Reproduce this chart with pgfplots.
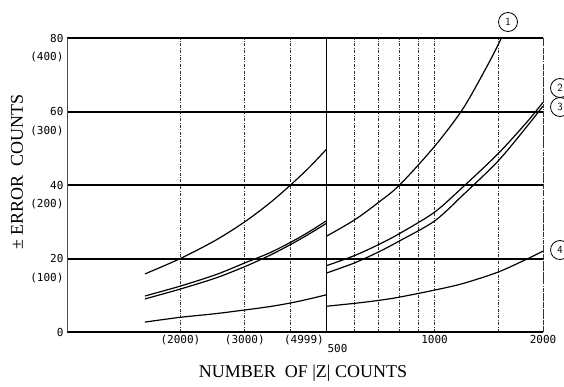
\documentclass[border=0pt]{standalone}
\usepackage{pgfplots}
\pgfplotsset{compat=1.18}
\usepackage{fontspec}
\setmainfont{Liberation Serif}
\newfontfamily\tickfont{DejaVu Sans Mono}

\begin{document}
\begin{tikzpicture}[x=1pt,y=1pt]
\path[use as bounding box] (0,0) rectangle (564,386);

% left section: (bracketed) scale, 1000-5000
\begin{axis}[xmode=log, scale only axis, height=294pt, ymin=0, ymax=80,
  axis line style={draw=none},
  major tick length=0pt, minor tick length=0pt,
  ytick={0,20,40,60,80}, ymajorgrids, xmajorgrids,
  y grid style={line width=2pt, black},
  x grid style={line width=0.7pt, black!80, dash pattern=on 3pt off 1.5pt on 0.8pt off 1.5pt},
  tick label style={font=\tickfont\fontsize{11}{12}\selectfont},
  anchor=south west, clip mode=individual,
  at={(67pt,54pt)}, width=259pt,
  xmin=980, xmax=5000,
  xtick={2000,3000,4000}, xticklabels={(2000),(3000),{}},
  extra x ticks={4350}, extra x tick labels={(4999)},
  extra x tick style={grid=none},
  yticklabels={0,20,40,60,80},
  extra y ticks={14.7,34.7,54.7,74.7},
  extra y tick labels={(100),(200),(300),(400)},
  extra y tick style={grid=none},
]
\addplot[line width=1.2pt, black, mark=none, smooth] coordinates {(1600,15.8) (2000,20) (2500,25) (3000,30) (3500,35) (4000,40) (4500,44.8) (5000,49.6)};
\addplot[line width=1.2pt, black, mark=none, smooth] coordinates {(1600,9.8) (2000,12.5) (2500,15.6) (3000,18.8) (3500,21.5) (4000,24.4) (4500,27.3) (5000,30.2)};
\addplot[line width=1.2pt, black, mark=none, smooth] coordinates {(1600,9.0) (2000,11.7) (2500,14.7) (3000,17.8) (3500,20.8) (4000,23.8) (4500,26.7) (5000,29.5)};
\addplot[line width=1.2pt, black, mark=none, smooth] coordinates {(1600,2.7) (2000,4.0) (2500,5.0) (3000,6.0) (3500,6.9) (4000,7.9) (4500,9.0) (5000,10.1)};
\draw[line width=2pt] (rel axis cs:0,1) -- (rel axis cs:1,1);
\draw[line width=2pt] (rel axis cs:0,0) -- (rel axis cs:1,0);
\draw[line width=0.8pt, black!70] (rel axis cs:0,0) -- (rel axis cs:0,1);
\draw[line width=1pt] (rel axis cs:1,0) -- (rel axis cs:1,1);
\end{axis}

% right section: 500-2000
\begin{axis}[xmode=log, scale only axis, height=294pt, ymin=0, ymax=80,
  axis line style={draw=none},
  major tick length=0pt, minor tick length=0pt,
  ytick={0,20,40,60,80}, ymajorgrids, xmajorgrids,
  y grid style={line width=2pt, black},
  x grid style={line width=0.7pt, black!80, dash pattern=on 3pt off 1.5pt on 0.8pt off 1.5pt},
  tick label style={font=\tickfont\fontsize{11}{12}\selectfont},
  anchor=south west, clip mode=individual,
  at={(326pt,54pt)}, width=217pt,
  xmin=500, xmax=2000,
  xtick={600,700,800,900,1000,1500,2000},
  xticklabels={{},{},{},{},1000,{},2000},
  extra x ticks={538}, extra x tick labels={500},
  extra x tick style={grid=none, xticklabel style={yshift=-9pt}},
  yticklabels={{},{},{},{},{}},
]
\addplot[line width=1.2pt, black, mark=none, smooth] coordinates {(500,26) (600,30.5) (700,35.3) (800,40) (1000,50.5) (1200,60.8) (1400,72.4) (1500,78.1) (1600,83.8)};
\addplot[line width=1.2pt, black, mark=none, smooth] coordinates {(500,18.0) (600,20.8) (700,23.8) (800,26.8) (1000,32.6) (1200,39.5) (1500,48.5) (1800,57) (2000,62.5)};
\addplot[line width=1.2pt, black, mark=none, smooth] coordinates {(500,16.0) (600,18.8) (700,21.8) (800,24.8) (1000,30.2) (1200,37.3) (1500,46.5) (1800,55.8) (2000,61.5)};
\addplot[line width=1.2pt, black, mark=none, smooth] coordinates {(500,7.0) (600,7.8) (700,8.6) (800,9.5) (1000,11.4) (1200,13.2) (1500,16.3) (1800,19.8) (2000,22.0)};
\draw[line width=2pt] (rel axis cs:0,1) -- (rel axis cs:1,1);
\draw[line width=2pt] (rel axis cs:0,0) -- (rel axis cs:1,0);
\draw[line width=0.7pt, black!80, dash pattern=on 4pt off 1.5pt on 1pt off 1.5pt] (rel axis cs:1,0) -- (rel axis cs:1,1);
\end{axis}

\node[rotate=90, font=\fontsize{18}{20}\selectfont] at (17,214) {± ERROR\ \ COUNTS};
\node[font=\fontsize{18}{20}\selectfont] at (303,13) {NUMBER\ \ OF |Z| COUNTS};

\begin{scope}[every node/.style={draw, circle, line width=0.8pt, minimum size=19pt, inner sep=0pt, font=\sffamily\fontsize{11}{12}\selectfont}]
\node at (508,364) {1};
\node at (560,298) {2};
\node at (560,279) {3};
\node at (560,136) {4};
\end{scope}
\end{tikzpicture}
\end{document}
